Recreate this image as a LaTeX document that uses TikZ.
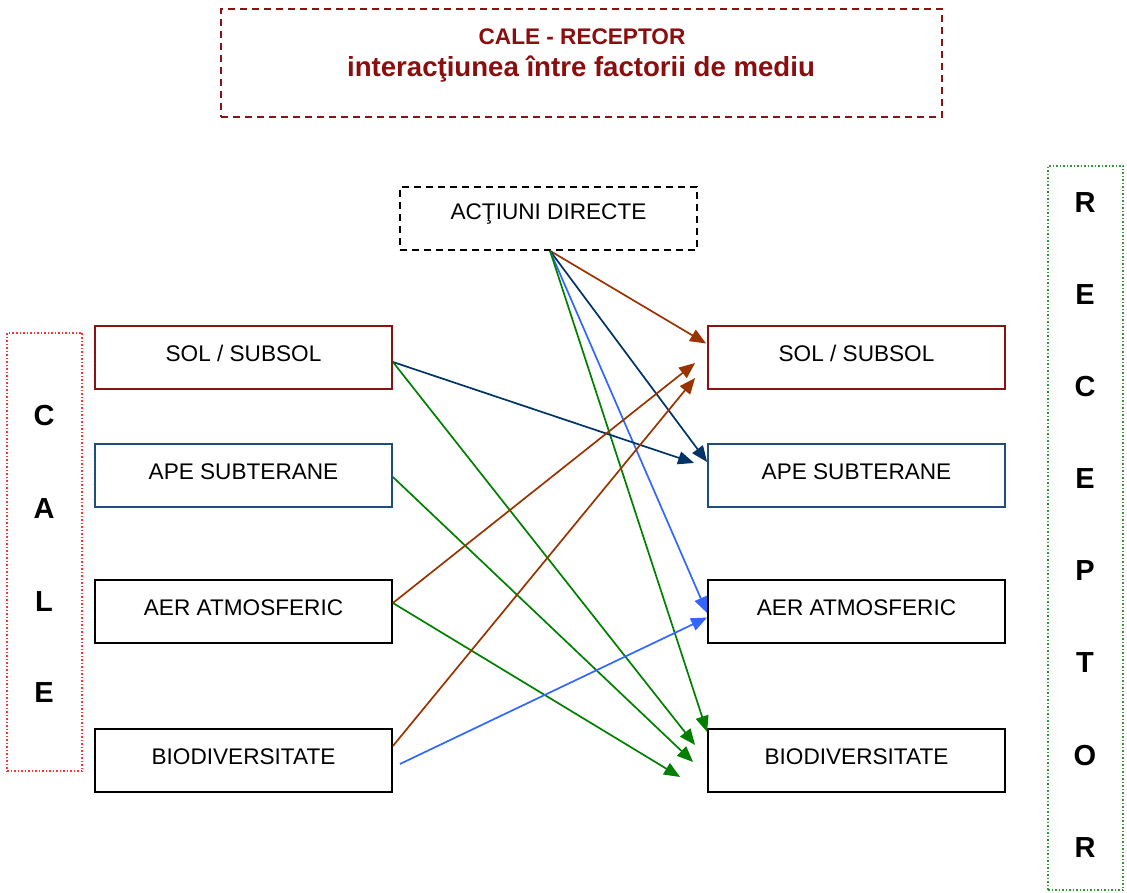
\documentclass[tikz,border=0pt]{standalone}
\usepackage{fontspec}
\setmainfont{Liberation Sans}
\usetikzlibrary{arrows.meta,calc}
\definecolor{dred}{HTML}{8B1212}
\definecolor{tred}{HTML}{8B0D0D}
\definecolor{bbox}{HTML}{1F4E7E}
\definecolor{abrown}{HTML}{993300}
\definecolor{anavy}{HTML}{003366}
\definecolor{ablue}{HTML}{3366FF}
\definecolor{agreen}{HTML}{008000}
\definecolor{dotred}{HTML}{FF3333}
\definecolor{dotgreen}{HTML}{339933}
\tikzset{
  boxnode/.style={draw, line width=1.8pt, minimum width=297pt, minimum height=63pt, inner sep=0pt},
  boxtext/.style={font=\fontsize{22.6}{26}\selectfont, inner sep=0pt},
  letter/.style={font=\fontsize{29}{32}\selectfont\bfseries, inner sep=0pt},
  arr/.style={line width=1.7pt, -{Triangle[length=16pt,width=13pt]}},
}
\begin{document}
\begin{tikzpicture}[x=1pt,y=-1pt]
\useasboundingbox (0,0) rectangle (1127,893);
% title
\node (title) [draw=dred, dashed, dash pattern=on 7pt off 5pt, line width=1.6pt, minimum width=721pt, minimum height=108pt, inner sep=0pt] at (581.5,63) {};
\node (t1) [text=tred, font=\fontsize{22.6}{26}\selectfont\bfseries] at (582,37) {CALE - RECEPTOR};
\node (t2) [text=tred, font=\fontsize{27.6}{30}\selectfont\bfseries] at (581,69.5) {interacţiunea între factorii de mediu};
% actiuni
\node (act) [draw, dashed, dash pattern=on 7pt off 5pt, line width=1.6pt, minimum width=297pt, minimum height=63pt, inner sep=0pt] at (548.5,218.5) {};
\node (actt) [boxtext] at (548.5,214.5) {ACŢIUNI DIRECTE};
% CALE column
\node (cale) [draw=dotred, dotted, line width=1.5pt, minimum width=75pt, minimum height=438pt, inner sep=0pt] at (44.5,552) {};
\node[letter] (c1) at (44,416) {C};
\node[letter] (c2) at (44,509) {A};
\node[letter] (c3) at (44,602) {L};
\node[letter] (c4) at (44,693) {E};
% RECEPTOR column
\node (rec) [draw=dotgreen, dotted, line width=1.5pt, minimum width=75pt, minimum height=724pt, inner sep=0pt] at (1085.5,528) {};
\node[letter] (r1) at (1085,203) {R};
\node[letter] (r2) at (1085,295) {E};
\node[letter] (r3) at (1085,387) {C};
\node[letter] (r4) at (1085,479) {E};
\node[letter] (r5) at (1085,571) {P};
\node[letter] (r6) at (1085,663) {T};
\node[letter] (r7) at (1085,756) {O};
\node[letter] (r8) at (1085,848) {R};
% left boxes
\node[boxnode, draw=dred] (lsol) at (243.5,357.5) {};
\node[boxnode, draw=bbox] (lape) at (243.5,475.5) {};
\node[boxnode] (laer) at (243.5,611.5) {};
\node[boxnode] (lbio) at (243.5,760.5) {};
\node[boxtext] (lsolt) at (243.5,353.5) {SOL / SUBSOL};
\node[boxtext] (lapet) at (243.5,471.5) {APE SUBTERANE};
\node[boxtext] (laert) at (243.5,607.5) {AER ATMOSFERIC};
\node[boxtext] (lbiot) at (243.5,756.5) {BIODIVERSITATE};
% right boxes
\node[boxnode, draw=dred] (rsol) at (856.5,357.5) {};
\node[boxnode, draw=bbox] (rape) at (856.5,475.5) {};
\node[boxnode] (raer) at (856.5,611.5) {};
\node[boxnode] (rbio) at (856.5,760.5) {};
\node[boxtext] (rsolt) at (856.5,353.5) {SOL / SUBSOL};
\node[boxtext] (rapet) at (856.5,471.5) {APE SUBTERANE};
\node[boxtext] (raert) at (856.5,607.5) {AER ATMOSFERIC};
\node[boxtext] (rbiot) at (856.5,756.5) {BIODIVERSITATE};
% connector points
\coordinate (aS) at ($(act.south)+(1.5,0)$);
\coordinate (solS) at ($(lsol.east)+(0,4.5)$);
\coordinate (apeS) at ($(lape.east)+(0,1.5)$);
\coordinate (aerS) at ($(laer.east)+(0,-8.5)$);
\coordinate (bioS) at ($(lbio.east)+(0,-14.5)$);
\coordinate (bioS2) at ($(lbio.east)+(7,3.5)$);
\coordinate (e1) at ($(rsol.west)+(-1,-14)$);
\coordinate (e2) at ($(rsol.west)+(-12,5.5)$);
\coordinate (e3) at ($(rsol.west)+(-12,20.5)$);
\coordinate (e4) at ($(rape.west)+(-13,-12.5)$);
\coordinate (e5) at ($(rape.west)+(0,-13.5)$);
\coordinate (e6) at ($(raer.west)+(0,1.5)$);
\coordinate (e7) at ($(raer.west)+(0,6)$);
\coordinate (e8) at ($(rbio.west)+(0,-28.5)$);
\coordinate (e9) at ($(rbio.west)+(-12,-15.5)$);
\coordinate (e10) at ($(rbio.west)+(-14,1.5)$);
\coordinate (e11) at ($(rbio.west)+(-27,16.5)$);
% arrows
\draw[arr, abrown] (aS) -- (e1);
\draw[arr, anavy] (aS) -- (e5);
\draw[arr, ablue] (aS) -- (e6);
\draw[arr, agreen] (aS) -- (e8);
\draw[arr, anavy] (solS) -- (e4);
\draw[arr, agreen] (solS) -- (e9);
\draw[arr, agreen] (apeS) -- (e10);
\draw[arr, abrown] (aerS) -- (e2);
\draw[arr, agreen] (aerS) -- (e11);
\draw[arr, abrown] (bioS) -- (e3);
\draw[arr, ablue] (bioS2) -- (e7);
\end{tikzpicture}
\end{document}
